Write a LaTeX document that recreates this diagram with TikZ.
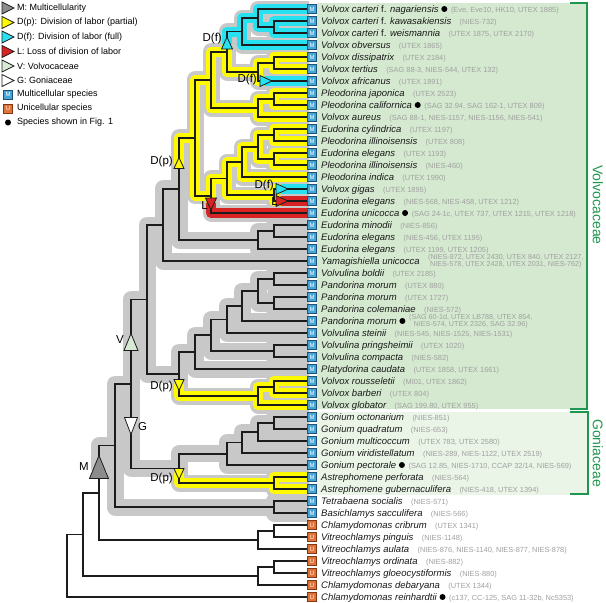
\documentclass[tikz,border=0pt]{standalone}
\usepackage{fontspec}
\setmainfont{Liberation Sans}
\usetikzlibrary{calc}
\definecolor{halogray}{RGB}{200,200,200}
\definecolor{hyellow}{RGB}{255,250,0}
\definecolor{hcyan}{RGB}{40,225,240}
\definecolor{hred}{RGB}{215,35,35}
\definecolor{vgreen}{RGB}{212,233,207}
\definecolor{ggreen}{RGB}{234,244,231}
\definecolor{bgreen}{RGB}{30,150,80}
\definecolor{straingray}{RGB}{160,160,160}
\definecolor{nameblack}{RGB}{25,25,25}
\definecolor{treeblack}{RGB}{28,28,28}
\definecolor{mblue}{RGB}{70,165,215}
\definecolor{mborder}{RGB}{30,80,120}
\definecolor{uorange}{RGB}{225,115,55}
\definecolor{uborder}{RGB}{130,55,20}
\definecolor{vtri}{RGB}{214,234,212}
\definecolor{mgray}{RGB}{140,140,140}
\newcommand\TriU[4]{\filldraw[tri, fill=#4, shift={(#1)}] (-#2/2,#3/2) -- (#2/2,#3/2) -- (0,-#3/2) -- cycle;}
\newcommand\TriD[4]{\filldraw[tri, fill=#4, shift={(#1)}] (-#2/2,-#3/2) -- (#2/2,-#3/2) -- (0,#3/2) -- cycle;}
\newcommand\TriR[4]{\filldraw[tri, fill=#4, shift={(#1)}] (-#2/2,-#3/2) -- (-#2/2,#3/2) -- (#2/2,0) -- cycle;}
\newcommand\Leaf[5]{%
  \node[#2] (i#1) at ($(l#1)+(5,0)$) {#3};
  \node[spn] (s#1) at ($(l#1)+(14,3.4)$) {#4};
  \node[stn] (t#1) at ($(s#1.base east)+(8,0)$) {#5};}
\newcommand\LeafD[5]{%
  \node[#2] (i#1) at ($(l#1)+(5,0)$) {#3};
  \node[spn] (s#1) at ($(l#1)+(14,3.4)$) {#4};
  \node[dotn] (d#1) at ($(s#1.east |- l#1)+(5.5,0)$) {};
  \node[stn] (t#1) at ($(s#1.base east)+(12,0)$) {#5};}
\newcommand\LeafN[4]{%
  \node[#2] (i#1) at ($(l#1)+(5,0)$) {#3};
  \node[spn] (s#1) at ($(l#1)+(14,3.4)$) {#4};}
\begin{document}
\begin{tikzpicture}[x=1pt,y=-1pt,
  halog/.style={line width=17pt, draw=halogray, line cap=round, line join=round},
  haloy/.style={line width=10pt, draw=hyellow, line cap=round, line join=round},
  haloc/.style={line width=10pt, draw=hcyan, line cap=round, line join=round},
  halor/.style={line width=10pt, draw=hred, line cap=round, line join=round},
  br/.style={line width=1.8pt, draw=treeblack, line cap=rect},
  tri/.style={draw=treeblack, line width=0.8pt, line join=miter},
  spn/.style={anchor=base west, inner sep=0pt, font=\fontsize{9.5}{11}\selectfont\itshape, text=nameblack},
  stn/.style={anchor=base west, inner sep=0pt, font=\fontsize{7.4}{8}\selectfont, text=straingray},
  stn2/.style={anchor=west, inner sep=0pt, align=center, font=\fontsize{7.2}{6.6}\selectfont, text=straingray},
  micon/.style={draw=mborder, fill=mblue, line width=0.6pt, minimum size=9pt, inner sep=0pt, text=white, font=\fontsize{6}{6}\selectfont},
  uicon/.style={draw=uborder, fill=uorange, line width=0.6pt, minimum size=9pt, inner sep=0pt, text=white, font=\fontsize{6}{6}\selectfont},
  dotn/.style={circle, fill=black, inner sep=0pt, minimum size=6pt},
  lab/.style={inner sep=0pt, font=\fontsize{11.5}{12}\selectfont},
  leg/.style={anchor=west, inner sep=0pt, font=\fontsize{9}{10}\selectfont},
  brk/.style={draw=bgreen, line width=1.8pt},
  famlab/.style={rotate=-90, inner sep=0pt, text=bgreen, font=\fontsize{14}{14}\selectfont}]
\useasboundingbox (0,0) rectangle (606,603);
\fill[white] (0,0) rectangle (606,603);
% family backgrounds
\fill[vgreen] (317,3) rectangle (587,409);
\fill[ggreen] (317,412) rectangle (588,495);
\draw[brk] (570,3) -- (587,3) -- (587,409) -- (570,409);
\draw[brk] (570,412) -- (588,412) -- (588,494) -- (570,494);
\node[famlab] (volv) at (598,205) {Volvocaceae};
\node[famlab] (goni) at (598,453) {Goniaceae};
% leaves
\foreach \i in {1,...,50} \coordinate (l\i) at (307,{9+12*(\i-1)});
\coordinate (n23) at (274,27);
\coordinate (A) at (258,18);
\coordinate (B) at (242,31.5);
\coordinate (E) at (274,63);
\coordinate (D) at (258,72);
\coordinate (C) at (227,51.75);
\coordinate (F) at (274,99);
\coordinate (G) at (258,108);
\coordinate (H) at (211,79.875);
\coordinate (I) at (274,135);
\coordinate (J) at (274,159);
\coordinate (K) at (258,147);
\coordinate (L) at (242,162);
\coordinate (N) at (274,195);
\coordinate (M) at (227,178.5);
\coordinate (P) at (211,195.75);
\coordinate (Q) at (195,137.8);
\coordinate (R) at (274,231);
\coordinate (S) at (258,240);
\coordinate (T) at (179,188.9);
\coordinate (U) at (163,225);
\coordinate (Y6) at (274,279);
\coordinate (Y7) at (274,303);
\coordinate (Y5) at (258,291);
\coordinate (Y4) at (242,306);
\coordinate (Y2) at (227,319.5);
\coordinate (Y3) at (274,351);
\coordinate (Y1) at (211,335.25);
\coordinate (Y) at (195,352.1);
\coordinate (Z1) at (274,387);
\coordinate (Z) at (258,396);
\coordinate (X) at (179,374);
\coordinate (W) at (147,299.5);
\coordinate (GE) at (274,423);
\coordinate (GD) at (258,432);
\coordinate (GC) at (242,442.5);
\coordinate (GB) at (227,453.75);
\coordinate (AS) at (274,483);
\coordinate (GA) at (179,468.4);
\coordinate (AA) at (131,384);
\coordinate (TB) at (274,507);
\coordinate (AB) at (115,445.5);
\coordinate (U1) at (274,531);
\coordinate (U2) at (258,540);
\coordinate (AC) at (99,492.75);
\coordinate (U3) at (274,567);
\coordinate (U4) at (258,576);
\coordinate (AD) at (83,534.4);
\coordinate (RT) at (67,565.7);
% event positions
\coordinate (tDf1) at (227,43);
\coordinate (tDf2) at (266,81);
\coordinate (tDf3) at (282,189);
\coordinate (tL2) at (282,201);
\coordinate (tL1) at (211,204);
\coordinate (tDp1) at (179,163);
\coordinate (tDp2) at (179,385);
\coordinate (tDp3) at (179,474);
\coordinate (tV) at (131,342);
\coordinate (tG) at (131,426);
\coordinate (tM) at (99,467);
\def\mcedges{A/l1, A/n23, n23/l2, n23/l3, B/A, B/l4, C/B, E/l5, E/l6, D/E, D/l7, C/D, F/l8, F/l9, G/F, G/l10, H/C, H/G, I/l11, I/l12, J/l13, J/l14, K/I, K/J, L/K, L/l15, N/l16, N/l17, M/L, M/N, P/M, P/l18, Q/H, Q/P, R/l19, R/l20, S/R, S/l21, T/Q, T/S, U/T, U/l22, Y6/l23, Y6/l24, Y7/l25, Y7/l26, Y5/Y6, Y5/Y7, Y4/Y5, Y4/l27, Y2/Y4, Y2/l28, Y3/l29, Y3/l30, Y1/Y2, Y1/Y3, Y/Y1, Y/l31, Z1/l32, Z1/l33, Z/Z1, Z/l34, X/Y, X/Z, W/U, W/X, GE/l35, GE/l36, GD/GE, GD/l37, GC/GD, GC/l38, GB/GC, GB/l39, AS/l40, AS/l41, GA/GB, GA/AS, AA/W, AA/GA, TB/l42, TB/l43, AB/AA, AB/TB}
% halos
\begin{scope}
\clip (0,0) rectangle (309,603);
\foreach \p/\c in \mcedges \draw[halog] (\p) |- (\c);
\draw[halog] (tM) |- (AB);
\foreach \p/\c in {tDp1/Q, Q/H, Q/P, H/C, C/tDf1, C/D, D/E, E/l5, E/l6, D/tDf2, H/G, G/F, G/l10, F/l8, F/l9, P/M, P/tL1, M/L, M/N, L/K, L/l15, K/I, K/J, I/l11, I/l12, J/l13, J/l14, N/tDf3, N/tL2, tDp2/Z, Z/Z1, Z/l34, Z1/l32, Z1/l33, tDp3/AS, AS/l40, AS/l41} \draw[haloy] (\p) |- (\c);
\foreach \p/\c in {tDf1/B, B/A, B/l4, A/l1, A/n23, n23/l2, n23/l3, tDf2/l7, tDf3/l16} \draw[haloc] (\p) |- (\c);
\foreach \p/\c in {tL1/l18, tL2/l17} \draw[halor] (\p) |- (\c);
\end{scope}
% tree
\foreach \p/\c in \mcedges \draw[br] (\p) |- (\c);
\foreach \p/\c in {U1/l44, U1/l45, U2/U1, U2/l46, AC/AB, AC/U2, U3/l47, U3/l48, U4/U3, U4/l49, AD/AC, AD/U4, RT/AD, RT/l50} \draw[br] (\p) |- (\c);
% events
\TriU{tDf1}{11}{12}{hcyan}
\TriR{tDf2}{12}{11}{hcyan}
\TriR{tDf3}{12}{11}{hcyan}
\TriR{tL2}{12}{11}{hred}
\TriD{tL1}{11}{12}{hred}
\TriU{tDp1}{10}{11}{hyellow}
\TriD{tDp2}{10}{11}{hyellow}
\TriD{tDp3}{10}{11}{hyellow}
\TriU{tV}{14}{17}{vtri}
\TriD{tG}{13}{17}{white}
\TriU{tM}{19}{23}{mgray}
\node[lab, anchor=east] (labDf1) at (222,39) {D(f)};
\node[lab, anchor=east] (labDf2) at (257,80) {D(f)};
\node[lab, anchor=east] (labDf3) at (274,186) {D(f)};
\node[lab, anchor=base east] (labL2) at (278,205) {L};
\node[lab, anchor=base east] (labL1) at (208,209) {L};
\node[lab, anchor=east] (labDp1) at (173,162) {D(p)};
\node[lab, anchor=east] (labDp2) at (173,387) {D(p)};
\node[lab, anchor=east] (labDp3) at (173,479) {D(p)};
\node[lab, anchor=east] (labV) at (124,340) {V};
\node[lab, anchor=west] (labG) at (138,427) {G};
\node[lab, anchor=east] (labM) at (89,467) {M};
% leaf labels
\LeafD{1}{micon}{M}{Volvox carteri \textup{f.} nagariensis}{(Eve, Eve10, HK10, UTEX 1885)}
\Leaf{2}{micon}{M}{Volvox carteri \textup{f.} kawasakiensis}{(NIES-732)}
\Leaf{3}{micon}{M}{Volvox carteri \textup{f.} weismannia}{(UTEX 1875, UTEX 2170)}
\Leaf{4}{micon}{M}{Volvox obversus}{(UTEX 1865)}
\Leaf{5}{micon}{M}{Volvox dissipatrix}{(UTEX 2184)}
\Leaf{6}{micon}{M}{Volvox tertius}{(SAG 88-3, NIES-544, UTEX 132)}
\Leaf{7}{micon}{M}{Volvox africanus}{(UTEX 1891)}
\Leaf{8}{micon}{M}{Pleodorina japonica}{(UTEX 2523)}
\LeafD{9}{micon}{M}{Pleodorina californica}{(SAG 32.94, SAG 162-1, UTEX 809)}
\Leaf{10}{micon}{M}{Volvox aureus}{(SAG 88-1, NIES-1157, NIES-1156, NIES-541)}
\Leaf{11}{micon}{M}{Eudorina cylindrica}{(UTEX 1197)}
\Leaf{12}{micon}{M}{Pleodorina illinoisensis}{(UTEX 808)}
\Leaf{13}{micon}{M}{Eudorina elegans}{(UTEX 1193)}
\Leaf{14}{micon}{M}{Pleodorina illinoisensis}{(NIES-460)}
\Leaf{15}{micon}{M}{Pleodorina indica}{(UTEX 1990)}
\Leaf{16}{micon}{M}{Volvox gigas}{(UTEX 1895)}
\Leaf{17}{micon}{M}{Eudorina elegans}{(NIES-568, NIES-458, UTEX 1212)}
\LeafD{18}{micon}{M}{Eudorina unicocca}{(SAG 24-1c, UTEX 737, UTEX 1215, UTEX 1218)}
\Leaf{19}{micon}{M}{Eudorina minodii}{(NIES-856)}
\Leaf{20}{micon}{M}{Eudorina elegans}{(NIES-456, UTEX 1195)}
\Leaf{21}{micon}{M}{Eudorina elegans}{(UTEX 1199, UTEX 1205)}
\LeafN{22}{micon}{M}{Yamagishiella unicocca}
\node[stn2] (t22) at ($(s22.base east)+(8,-3.4)$) {(NIES-872, UTEX 2430, UTEX 840, UTEX 2127,\\NIES-578, UTEX 2428, UTEX 2031, NIES-762)};
\Leaf{23}{micon}{M}{Volvulina boldii}{(UTEX 2185)}
\Leaf{24}{micon}{M}{Pandorina morum}{(UTEX 880)}
\Leaf{25}{micon}{M}{Pandorina morum}{(UTEX 1727)}
\Leaf{26}{micon}{M}{Pandorina colemaniae}{(NIES-572)}
\LeafN{27}{micon}{M}{Pandorina morum}
\node[dotn] (d27) at ($(s27.east |- l27)+(5.5,0)$) {};
\node[stn2] (t27) at ($(s27.base east)+(12,-3.4)$) {(SAG 60-1d, UTEX LB788, UTEX 854,\\NIES-574, UTEX 2326, SAG 32.96)};
\Leaf{28}{micon}{M}{Volvulina steinii}{(NIES-545, NIES-1525, NIES-1531)}
\Leaf{29}{micon}{M}{Volvulina pringsheimii}{(UTEX 1020)}
\Leaf{30}{micon}{M}{Volvulina compacta}{(NIES-582)}
\Leaf{31}{micon}{M}{Platydorina caudata}{(UTEX 1858, UTEX 1661)}
\Leaf{32}{micon}{M}{Volvox rousseletii}{(MI01, UTEX 1862)}
\Leaf{33}{micon}{M}{Volvox barberi}{(UTEX 804)}
\Leaf{34}{micon}{M}{Volvox globator}{(SAG 199.80, UTEX 955)}
\Leaf{35}{micon}{M}{Gonium octonarium}{(NIES-851)}
\Leaf{36}{micon}{M}{Gonium quadratum}{(NIES-653)}
\Leaf{37}{micon}{M}{Gonium multicoccum}{(UTEX 783, UTEX 2580)}
\Leaf{38}{micon}{M}{Gonium viridistellatum}{(NIES-289, NIES-1122, UTEX 2519)}
\LeafD{39}{micon}{M}{Gonium pectorale}{(SAG 12.85, NIES-1710, CCAP 32/14, NIES-569)}
\Leaf{40}{micon}{M}{Astrephomene perforata}{(NIES-564)}
\Leaf{41}{micon}{M}{Astrephomene gubernaculifera}{(NIES-418, UTEX 1394)}
\Leaf{42}{micon}{M}{Tetrabaena socialis}{(NIES-571)}
\Leaf{43}{micon}{M}{Basichlamys sacculifera}{(NIES-566)}
\Leaf{44}{uicon}{U}{Chlamydomonas cribrum}{(UTEX 1341)}
\Leaf{45}{uicon}{U}{Vitreochlamys pinguis}{(NIES-1148)}
\Leaf{46}{uicon}{U}{Vitreochlamys aulata}{(NIES-876, NIES-1140, NIES-877, NIES-878)}
\Leaf{47}{uicon}{U}{Vitreochlamys ordinata}{(NIES-882)}
\Leaf{48}{uicon}{U}{Vitreochlamys gloeocystiformis}{(NIES-880)}
\Leaf{49}{uicon}{U}{Chlamydomonas debaryana}{(UTEX 1344)}
\LeafD{50}{uicon}{U}{Chlamydomonas reinhardtii}{(c137, CC-125, SAG 11-32b, Nc5353)}
% legend
\coordinate (g1) at (8,8);
\coordinate (g2) at (8,22.5);
\coordinate (g3) at (8,37);
\coordinate (g4) at (8,51.5);
\coordinate (g5) at (8,66);
\coordinate (g6) at (8,80.5);
\TriR{g1}{12}{12}{mgray}
\TriR{g2}{12}{12}{hyellow}
\TriR{g3}{12}{12}{hcyan}
\TriR{g4}{12}{12}{hred}
\TriR{g5}{12}{12}{vtri}
\TriR{g6}{12}{12}{white}
\node[leg] (lg1) at (17,8) {M: Multicellularity};
\node[leg] (lg2) at (17,22.5) {D(p): Division of labor (partial)};
\node[leg] (lg3) at (17,37) {D(f): Division of labor (full)};
\node[leg] (lg4) at (17,51.5) {L: Loss of division of labor};
\node[leg] (lg5) at (17,66) {V: Volvocaceae};
\node[leg] (lg6) at (17,80.5) {G: Goniaceae};
\node[micon] (lgi7) at (8,94.5) {M};
\node[uicon] (lgi8) at (8,108.5) {U};
\node[dotn] (lgi9) at (8,122.5) {};
\node[leg] (lg7) at (17,94.5) {Multicellular species};
\node[leg] (lg8) at (17,108.5) {Unicellular species};
\node[leg] (lg9) at (17,122.5) {Species shown in Fig. 1};
\end{tikzpicture}
\end{document}
